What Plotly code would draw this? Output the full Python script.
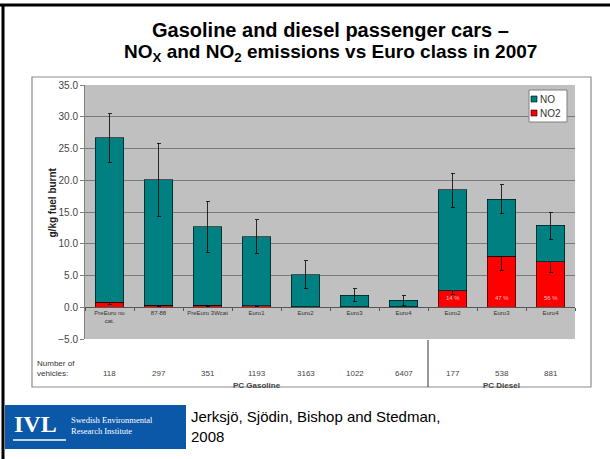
import plotly.graph_objects as go

# Emission factors by vehicle class (g/kg fuel burnt)
categories = ["PreEuro no<br>cat.", "87-88", "PreEuro 3Wcat", "Euro1", "Euro2",
              "Euro3", "Euro4", "Euro2", "Euro3", "Euro4"]
nox_total = [26.7, 20.1, 12.7, 11.1, 5.1, 1.9, 1.1, 18.5, 17.0, 12.9]
no2 = [0.8, 0.3, 0.3, 0.2, 0.1, 0.1, 0.1, 2.6, 8.0, 7.2]
nox_err_plus = [3.8, 5.7, 4.0, 2.7, 2.2, 1.0, 0.8, 2.6, 2.3, 2.0]
nox_err_minus = [3.9, 5.8, 4.0, 2.6, 2.2, 1.0, 0.8, 2.8, 2.3, 2.3]
no2_err_plus = [0.3, 0.2, 0.2, 0.1, 0.1, 0.05, 0.05, 0.6, 2.1, 1.5]
no2_err_minus = [0.3, 0.2, 0.2, 0.1, 0.1, 0.05, 0.05, 0.6, 2.2, 1.7]
vehicles = [118, 297, 351, 1193, 3163, 1022, 6407, 177, 538, 881]
groups = [("PC Gasoline", 0, 7), ("PC Diesel", 7, 10)]
no = [round(t - n, 2) for t, n in zip(nox_total, no2)]
xs = list(range(len(categories)))

W, H = 610, 459
L, R, T, B = 85, 35, 85, 120
pw, ph = W - L - R, H - T - B


def fx(px):
    return (px - L) / pw


def fy(py):
    return (H - B - py) / ph


TEAL = "#008080"
RED = "#ff0000"
FONT = "Liberation Sans, Arial, sans-serif"
SERIF = "Liberation Serif, Times New Roman, serif"

fig = go.Figure()
fig.add_bar(x=xs, y=no2, name="NO2", showlegend=False,
            marker=dict(color=RED, line=dict(color="#000", width=0.6)), width=0.58,
            error_y=dict(type="data", array=no2_err_plus, arrayminus=no2_err_minus,
                         color="#000", thickness=0.8, width=2))
fig.add_bar(x=xs, y=no, name="NO", showlegend=False,
            marker=dict(color=TEAL, line=dict(color="#000", width=0.6)), width=0.58,
            error_y=dict(type="data", array=nox_err_plus, arrayminus=nox_err_minus,
                         color="#000", thickness=0.8, width=2))

ann = []
# titles
ann.append(dict(text="<b>Gasoline and diesel passenger cars –</b>", x=0.5, xref="paper",
                xanchor="center", y=fy(30), yref="paper", yanchor="middle", showarrow=False,
                font=dict(family=FONT, size=20, color="#000")))
ann.append(dict(text="<b>NO<sub>X</sub> and NO<sub>2</sub> emissions vs Euro class in 2007</b>",
                x=0.5, xref="paper", xanchor="center", y=fy(53), yref="paper", yanchor="middle",
                showarrow=False, font=dict(family=FONT, size=19, color="#000")))
# y axis title
ann.append(dict(text="<b>g/kg fuel burnt</b>", x=fx(44), xref="paper", y=fy(203), yref="paper",
                textangle=-90, showarrow=False, font=dict(family=FONT, size=10, color="#222")))
# NO2 share inside diesel bars
for i in range(7, 10):
    pct = round(100 * no2[i] / nox_total[i])
    ann.append(dict(text=f"{pct} %", x=xs[i], y=1.5, xref="x", yref="y", showarrow=False,
                    font=dict(family=FONT, size=6, color="#ffc0c0")))
# vehicle counts
ann.append(dict(text="Number of<br>vehicles:", x=fx(35), xref="paper", xanchor="left",
                y=fy(368), yref="paper", yanchor="middle", showarrow=False, align="left",
                font=dict(family=FONT, size=8, color="#333")))
for i, v in enumerate(vehicles):
    ann.append(dict(text=str(v), x=xs[i], xref="x", y=fy(373), yref="paper", yanchor="middle",
                    showarrow=False, font=dict(family=FONT, size=8, color="#444")))
for name, a, b in groups:
    ann.append(dict(text=f"<b>{name}</b>", x=(a + b - 1) / 2, xref="x", y=fy(385), yref="paper",
                    yanchor="middle", showarrow=False,
                    font=dict(family=FONT, size=8, color="#444")))
# legend
legend_items = [("NO", TEAL, 99), ("NO2", RED, 113)]
for label, col, py in legend_items:
    ann.append(dict(text=label, x=fx(538), xref="paper", xanchor="left", y=fy(py),
                    yref="paper", yanchor="middle", showarrow=False,
                    font=dict(family=FONT, size=10, color="#333")))
# footer: logo and citation
ann.append(dict(text="<b>IVL</b>", x=fx(12), xref="paper", xanchor="left", y=fy(424),
                yref="paper", yanchor="middle", showarrow=False,
                font=dict(family=SERIF, size=24, color="#fff")))
ann.append(dict(text="Swedish Environmental<br>Research Institute", x=fx(69), xref="paper",
                xanchor="left", y=fy(425), yref="paper", yanchor="middle", showarrow=False,
                align="left", font=dict(family=SERIF, size=8.5, color="#fff")))
ann.append(dict(text="Jerksjö, Sjödin, Bishop and Stedman,<br>2008", x=fx(189), xref="paper",
                xanchor="left", y=fy(426), yref="paper", yanchor="middle", showarrow=False,
                align="left", font=dict(family=FONT, size=15, color="#000")))

shapes = [
    # outer black frame edges
    dict(type="line", xref="paper", yref="paper", x0=fx(0), x1=fx(W), y0=fy(5), y1=fy(5),
         line=dict(color="#000", width=3)),
    dict(type="line", xref="paper", yref="paper", x0=fx(3), x1=fx(3), y0=fy(4), y1=fy(H),
         line=dict(color="#000", width=3)),
    # chart box
    dict(type="rect", xref="paper", yref="paper", x0=fx(32), x1=fx(591), y0=fy(387), y1=fy(77),
         line=dict(color="#8c8c8c", width=1.2), layer="below"),
    # gasoline / diesel separator
    dict(type="line", xref="x", yref="paper", x0=6.5, x1=6.5, y0=fy(387), y1=fy(340),
         line=dict(color="#333", width=1)),
    # legend box
    dict(type="rect", xref="paper", yref="paper", x0=fx(529), x1=fx(567), y0=fy(122),
         y1=fy(90), fillcolor="#fff", line=dict(color="#808080", width=1)),
    # logo block
    dict(type="rect", xref="paper", yref="paper", x0=fx(5), x1=fx(186), y0=fy(449), y1=fy(405),
         fillcolor="#0b57a8", line=dict(width=0)),
    dict(type="line", xref="paper", yref="paper", x0=fx(13), x1=fx(66), y0=fy(440), y1=fy(440),
         line=dict(color="#fff", width=1.5)),
]
for label, col, py in legend_items:
    shapes.append(dict(type="rect", xref="paper", yref="paper", x0=fx(531), x1=fx(537),
                       y0=fy(py + 3), y1=fy(py - 3), fillcolor=col,
                       line=dict(color="#000", width=0.6)))

fig.update_layout(
    width=W, height=H, margin=dict(l=L, r=R, t=T, b=B),
    barmode="stack", bargap=0.42,
    paper_bgcolor="#fff", plot_bgcolor="#c0c0c0",
    font=dict(family=FONT, color="#333"),
    showlegend=False,
    xaxis=dict(range=[-0.5, 9.5], tickmode="array", tickvals=xs, ticktext=categories,
               anchor="free", position=5 / 40, showline=True, linecolor="#555", linewidth=1,
               ticks="", tickfont=dict(size=6, color="#333"), showgrid=False, zeroline=False,
               minor=dict(tickmode="array", tickvals=[i - 0.5 for i in range(11)],
                          ticks="outside", ticklen=3, tickcolor="#555")),
    yaxis=dict(range=[-5, 35], dtick=5, tickformat=".1f", showline=True, linecolor="#808080",
               ticks="outside", ticklen=4, tickcolor="#808080", gridcolor="#7a7a7a",
               gridwidth=1, zeroline=False, tickfont=dict(size=10, color="#444")),
    annotations=ann, shapes=shapes,
)

fig.write_html("out.html")
